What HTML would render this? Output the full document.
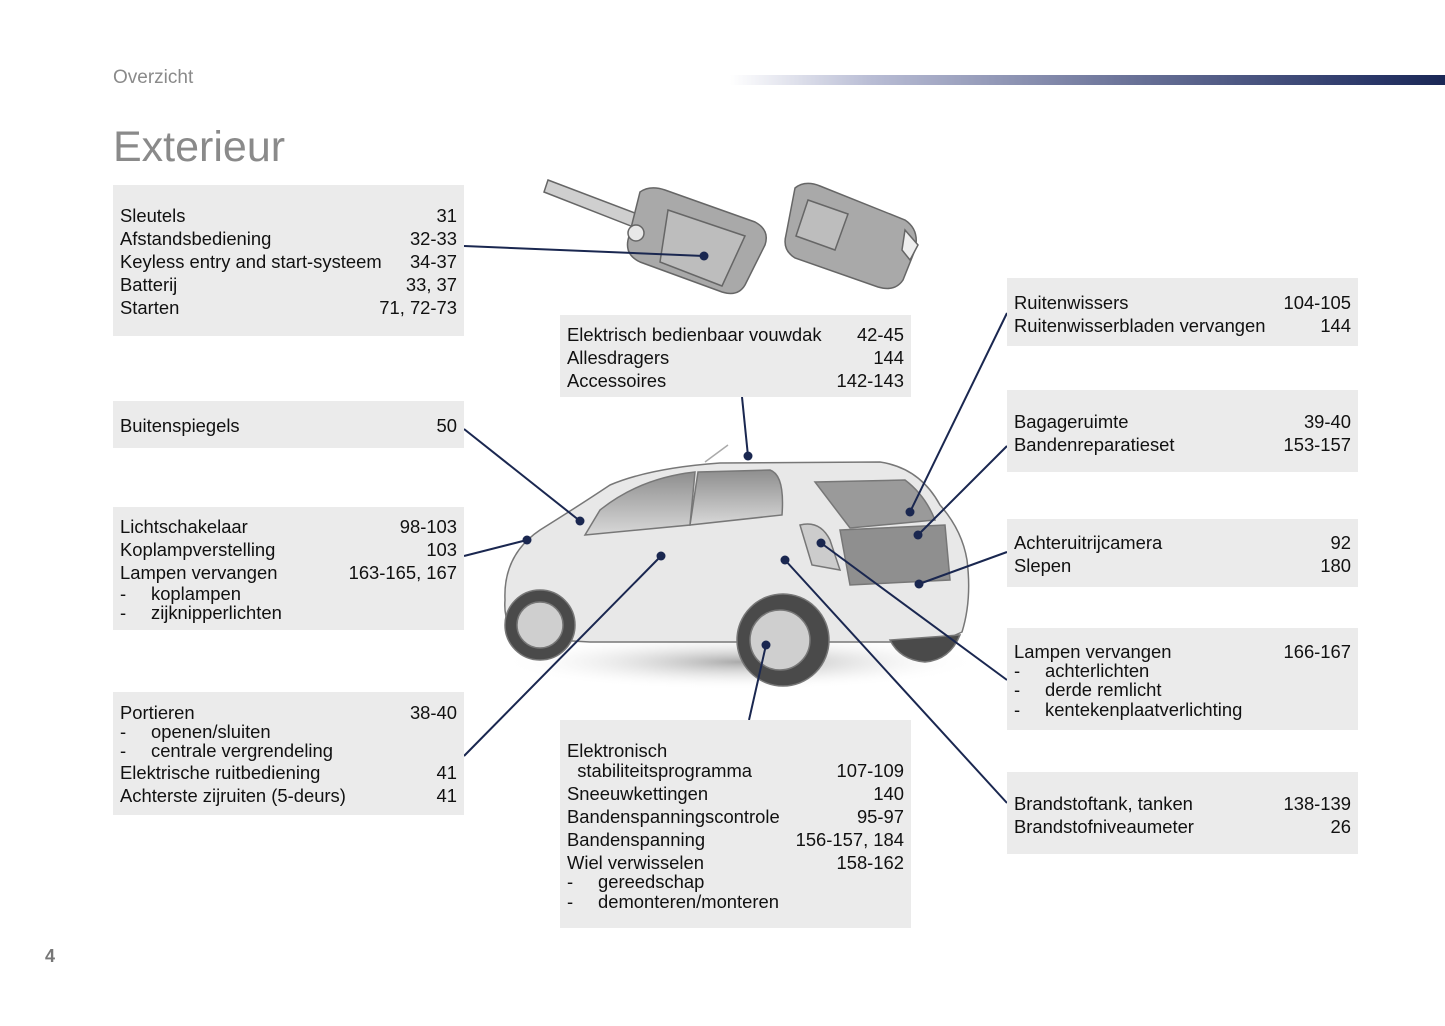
<!DOCTYPE html>
<html><head><meta charset="utf-8">
<style>
*{margin:0;padding:0;box-sizing:border-box}
body{width:1445px;height:1026px;background:#fff;position:relative;overflow:hidden;font-family:"Liberation Sans",Arial,sans-serif;color:#111}
.box{position:absolute;background:#ebebeb;width:351px;padding-left:7px;padding-right:7px;font-size:18.4px}
.r{height:23px;line-height:23px;display:flex;justify-content:space-between;white-space:nowrap}
.s{height:19.5px;line-height:19.5px;display:flex;white-space:nowrap}
.s span:first-child{width:31px}
.t{position:absolute;color:#8a8a8a}
svg{position:absolute;left:0;top:0}
</style></head><body>
<div class="t" style="left:113px;top:67px;font-size:19px">Overzicht</div>
<div style="position:absolute;left:730px;top:75px;width:715px;height:10px;background:linear-gradient(90deg,#fff 0%,#b8bcd4 20%,#6c7499 55%,#2a3768 90%,#1a2755 100%)"></div>
<div class="t" style="left:113px;top:123px;font-size:43px;color:#8a8a8a">Exterieur</div>
<div class="t" style="left:45px;top:946px;font-size:18px;font-weight:bold;color:#777">4</div>

<svg width="1445" height="1026" viewBox="0 0 1445 1026">
<defs>
<linearGradient id="win" x1="0" y1="0" x2="0" y2="1"><stop offset="0" stop-color="#8e8e8e"/><stop offset="1" stop-color="#d8d8d8"/></linearGradient>
<radialGradient id="sh"><stop offset="0" stop-color="#aaa"/><stop offset="1" stop-color="#fff" stop-opacity="0"/></radialGradient>
</defs>
<g stroke="#666" stroke-width="1.5">
<path d="M548 180 L640 215 L636 228 L544 192 Z" fill="#cfcfcf"/>
<path d="M640 192 Q650 185 665 190 L755 222 Q770 230 765 245 L745 285 Q738 297 722 292 L640 262 Q625 255 628 240 Z" fill="#a9a9a9"/>
<path d="M668 210 L745 236 L722 286 L660 262 Z" fill="#bdbdbd"/>
<circle cx="636" cy="233" r="8" fill="#e8e8e8"/>
<path d="M795 188 Q805 180 820 186 L905 220 Q920 230 915 250 L903 280 Q895 292 878 287 L795 258 Q782 250 786 235 Z" fill="#a9a9a9"/>
<path d="M808 200 L848 214 L835 250 L796 236 Z" fill="#bdbdbd"/>
<path d="M905 230 L918 245 L910 260 L902 250Z" fill="#eee"/>
</g>
<ellipse cx="740" cy="662" rx="240" ry="28" fill="url(#sh)"/>
<g stroke="#777" stroke-width="1.5">
<path d="M505 600 Q503 555 540 530 Q580 505 610 485 Q650 468 720 463 L880 462 Q920 468 940 505 Q962 530 967 560 Q972 600 962 632 L940 642 L590 642 L520 638 Q503 625 505 600Z" fill="#e8e8e8"/>
<path d="M600 510 Q640 478 695 472 L690 525 L585 535 Z" fill="url(#win)"/>
<path d="M698 472 L770 470 Q785 475 782 515 L690 525 Z" fill="url(#win)"/>
<path d="M815 482 L905 480 Q925 495 935 520 L850 528 Z" fill="#9a9a9a"/>
<path d="M840 530 L945 525 L950 580 L850 585 Z" fill="#8f8f8f"/>
<path d="M800 525 Q820 520 830 540 L840 570 L812 565 Z" fill="#ccc"/>
<circle cx="540" cy="625" r="35" fill="#4a4a4a"/><circle cx="540" cy="625" r="23" fill="#cfcfcf"/>
<circle cx="783" cy="640" r="46" fill="#4a4a4a"/><circle cx="780" cy="640" r="30" fill="#cfcfcf"/>
<path d="M890 640 Q900 660 925 662 Q950 660 960 635 Z" fill="#4a4a4a"/>
</g>
<line x1="705" y1="462" x2="728" y2="445" stroke="#aaa" stroke-width="1.5"/>
<g stroke="#1a2750" stroke-width="2" fill="none">
<line x1="464" y1="246" x2="704" y2="256"/>
<line x1="464" y1="429" x2="580" y2="521"/>
<line x1="464" y1="556" x2="527" y2="540"/>
<line x1="464" y1="756" x2="661" y2="556"/>
<line x1="742" y1="397" x2="748" y2="456"/>
<line x1="749" y1="720" x2="766" y2="645"/>
<line x1="1007" y1="313" x2="910" y2="512"/>
<line x1="1007" y1="446" x2="918" y2="535"/>
<line x1="1007" y1="552" x2="919" y2="584"/>
<line x1="1007" y1="680" x2="821" y2="543"/>
<line x1="1007" y1="803" x2="785" y2="560"/>
</g>
<g fill="#1a2750">
<circle cx="704" cy="256" r="4.5"/><circle cx="580" cy="521" r="4.5"/><circle cx="527" cy="540" r="4.5"/>
<circle cx="661" cy="556" r="4.5"/><circle cx="748" cy="456" r="4.5"/><circle cx="766" cy="645" r="4.5"/>
<circle cx="910" cy="512" r="4.5"/><circle cx="918" cy="535" r="4.5"/><circle cx="919" cy="584" r="4.5"/>
<circle cx="821" cy="543" r="4.5"/><circle cx="785" cy="560" r="4.5"/>
</g>
</svg>

<div class="box" style="left:113px;top:185px;height:151px;padding-top:18.5px">
<div class="r"><span>Sleutels</span><span>31</span></div>
<div class="r"><span>Afstandsbediening</span><span>32-33</span></div>
<div class="r"><span>Keyless entry and start-systeem</span><span>34-37</span></div>
<div class="r"><span>Batterij</span><span>33, 37</span></div>
<div class="r"><span>Starten</span><span>71, 72-73</span></div>
</div>
<div class="box" style="left:113px;top:401px;height:47px;padding-top:12.5px">
<div class="r"><span>Buitenspiegels</span><span>50</span></div>
</div>
<div class="box" style="left:113px;top:507px;height:123px;padding-top:7.5px">
<div class="r"><span>Lichtschakelaar</span><span>98-103</span></div>
<div class="r"><span>Koplampverstelling</span><span>103</span></div>
<div class="r"><span>Lampen vervangen</span><span>163-165, 167</span></div>
<div class="s"><span>-</span><span>koplampen</span></div>
<div class="s"><span>-</span><span>zijknipperlichten</span></div>
</div>
<div class="box" style="left:113px;top:692px;height:123px;padding-top:8.5px">
<div class="r" style="height:21px;line-height:23px"><span>Portieren</span><span>38-40</span></div>
<div class="s"><span>-</span><span>openen/sluiten</span></div>
<div class="s"><span>-</span><span>centrale vergrendeling</span></div>
<div class="r"><span>Elektrische ruitbediening</span><span>41</span></div>
<div class="r"><span>Achterste zijruiten (5-deurs)</span><span>41</span></div>
</div>
<div class="box" style="left:560px;top:315px;height:82px;padding-top:7.5px">
<div class="r"><span>Elektrisch bedienbaar vouwdak</span><span>42-45</span></div>
<div class="r"><span>Allesdragers</span><span>144</span></div>
<div class="r"><span>Accessoires</span><span>142-143</span></div>
</div>
<div class="box" style="left:560px;top:720px;height:208px;padding-top:19px">
<div class="r" style="height:20px"><span>Elektronisch</span><span></span></div>
<div class="r"><span>&nbsp;&nbsp;stabiliteitsprogramma</span><span>107-109</span></div>
<div class="r"><span>Sneeuwkettingen</span><span>140</span></div>
<div class="r"><span>Bandenspanningscontrole</span><span>95-97</span></div>
<div class="r"><span>Bandenspanning</span><span>156-157, 184</span></div>
<div class="r" style="height:21px"><span>Wiel verwisselen</span><span>158-162</span></div>
<div class="s"><span>-</span><span>gereedschap</span></div>
<div class="s"><span>-</span><span>demonteren/monteren</span></div>
</div>
<div class="box" style="left:1007px;top:278px;height:68px;padding-top:12.5px">
<div class="r"><span>Ruitenwissers</span><span>104-105</span></div>
<div class="r"><span>Ruitenwisserbladen vervangen</span><span>144</span></div>
</div>
<div class="box" style="left:1007px;top:390px;height:82px;padding-top:19.5px">
<div class="r"><span>Bagageruimte</span><span>39-40</span></div>
<div class="r"><span>Bandenreparatieset</span><span>153-157</span></div>
</div>
<div class="box" style="left:1007px;top:519px;height:68px;padding-top:11.5px">
<div class="r"><span>Achteruitrijcamera</span><span>92</span></div>
<div class="r"><span>Slepen</span><span>180</span></div>
</div>
<div class="box" style="left:1007px;top:628px;height:102px;padding-top:11.5px">
<div class="r" style="height:21px"><span>Lampen vervangen</span><span>166-167</span></div>
<div class="s"><span>-</span><span>achterlichten</span></div>
<div class="s"><span>-</span><span>derde remlicht</span></div>
<div class="s"><span>-</span><span>kentekenplaatverlichting</span></div>
</div>
<div class="box" style="left:1007px;top:772px;height:82px;padding-top:19.5px">
<div class="r"><span>Brandstoftank, tanken</span><span>138-139</span></div>
<div class="r"><span>Brandstofniveaumeter</span><span>26</span></div>
</div>
</body></html>
